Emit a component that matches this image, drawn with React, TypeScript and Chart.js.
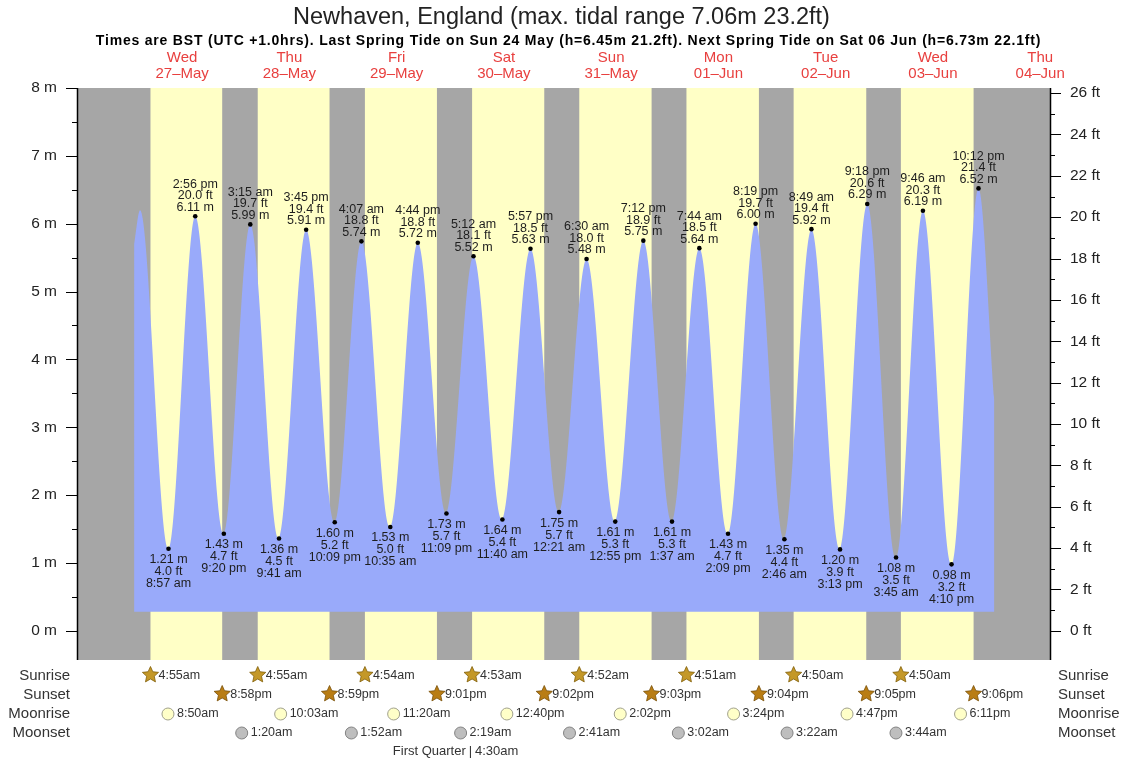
import React, { useEffect, useRef } from 'react';
import { Chart, registerables } from 'chart.js';

Chart.register(...registerables);

const FONT = '"Liberation Sans", Arial, Helvetica, sans-serif';
const GRAY = 'rgb(166,166,166)';
const YELLOW = 'rgb(255,255,198)';
const BLUE = 'rgb(153,170,250)';
const RED = '#e8403f';
const FT_PER_M = 3.28084;

// x values are hours after 00:00 BST on Wed 27 May
const X_MIN = -11.3;
const X_MAX = 206.2;
const Y_MIN = -0.43;
const Y_MAX = 8;
const FILL_BASE = 0.28;

const titleText = 'Newhaven, England (max. tidal range 7.06m 23.2ft)';
const subtitleText =
  'Times are BST (UTC +1.0hrs). Last Spring Tide on Sun 24 May (h=6.45m 21.2ft). Next Spring Tide on Sat 06 Jun (h=6.73m 22.1ft)';

const dayNames = ['Wed', 'Thu', 'Fri', 'Sat', 'Sun', 'Mon', 'Tue', 'Wed', 'Thu'];
const dayDates = ['27–May', '28–May', '29–May', '30–May', '31–May', '01–Jun', '02–Jun', '03–Jun', '04–Jun'];

// labelled high / low tides
const tideDay = [0, 0, 0, 1, 1, 1, 1, 2, 2, 2, 2, 3, 3, 3, 4, 4, 4, 4, 5, 5, 5, 5, 6, 6, 6, 6, 7, 7, 7, 7];
const tideTime = [
  '8:57 am', '2:56 pm', '9:20 pm',
  '3:15 am', '9:41 am', '3:45 pm', '10:09 pm',
  '4:07 am', '10:35 am', '4:44 pm', '11:09 pm',
  '5:12 am', '11:40 am', '5:57 pm',
  '12:21 am', '6:30 am', '12:55 pm', '7:12 pm',
  '1:37 am', '7:44 am', '2:09 pm', '8:19 pm',
  '2:46 am', '8:49 am', '3:13 pm', '9:18 pm',
  '3:45 am', '9:46 am', '4:10 pm', '10:12 pm',
];
const tideType = [
  'L', 'H', 'L',
  'H', 'L', 'H', 'L',
  'H', 'L', 'H', 'L',
  'H', 'L', 'H',
  'L', 'H', 'L', 'H',
  'L', 'H', 'L', 'H',
  'L', 'H', 'L', 'H',
  'L', 'H', 'L', 'H',
];
const tideM = [
  1.21, 6.11, 1.43,
  5.99, 1.36, 5.91, 1.6,
  5.74, 1.53, 5.72, 1.73,
  5.52, 1.64, 5.63,
  1.75, 5.48, 1.61, 5.75,
  1.61, 5.64, 1.43, 6.0,
  1.35, 5.92, 1.2, 6.29,
  1.08, 6.19, 0.98, 6.52,
];
const tideFt = [
  4.0, 20.0, 4.7,
  19.7, 4.5, 19.4, 5.2,
  18.8, 5.0, 18.8, 5.7,
  18.1, 5.4, 18.5,
  5.7, 18.0, 5.3, 18.9,
  5.3, 18.5, 4.7, 19.7,
  4.4, 19.4, 3.9, 20.6,
  3.5, 20.3, 3.2, 21.4,
];

// unlabelled points of the curve: start, first high, end
const edgeDay = [0, 0, 8];
const edgeTime = ['1:15 am', '2:35 am', '1:45 am'];
const edgeM = [5.7, 6.2, 3.4];

const sunriseTimes = ['4:55am', '4:55am', '4:54am', '4:53am', '4:52am', '4:51am', '4:50am', '4:50am'];
const sunsetTimes = ['8:58pm', '8:59pm', '9:01pm', '9:02pm', '9:03pm', '9:04pm', '9:05pm', '9:06pm'];
const moonriseTimes = ['8:50am', '10:03am', '11:20am', '12:40pm', '2:02pm', '3:24pm', '4:47pm', '6:11pm'];
const moonsetDay = [1, 2, 3, 4, 5, 6, 7];
const moonsetTimes = ['1:20am', '1:52am', '2:19am', '2:41am', '3:02am', '3:22am', '3:44am'];
const phaseDay = 3;
const phaseTime = '4:30am';
const phaseName = 'First Quarter';

const mTicks = [0, 0.5, 1, 1.5, 2, 2.5, 3, 3.5, 4, 4.5, 5, 5.5, 6, 6.5, 7, 7.5, 8];
const ftTicks = [0, 1, 2, 3, 4, 5, 6, 7, 8, 9, 10, 11, 12, 13, 14, 15, 16, 17, 18, 19, 20, 21, 22, 23, 24, 25, 26];

function parseTime(s: string): number {
  const m = s.trim().match(/^(\d+):(\d+)\s*(am|pm)$/i);
  if (!m) return 0;
  let h = parseInt(m[1], 10) % 12;
  const min = parseInt(m[2], 10);
  if (m[3].toLowerCase() === 'pm') h += 12;
  return h + min / 60;
}
const hoursOf = (day: number, t: string) => day * 24 + parseTime(t);

type P = { x: number; y: number; idx: number };
const curvePoints: P[] = [
  ...tideM.map((m, i) => ({ x: hoursOf(tideDay[i], tideTime[i]), y: m, idx: i })),
  ...edgeM.map((m, i) => ({ x: hoursOf(edgeDay[i], edgeTime[i]), y: m, idx: -1 })),
].sort((a, b) => a.x - b.x);

function drawStar(ctx: CanvasRenderingContext2D, cx: number, cy: number, R: number, r: number, fill: string, stroke: string) {
  ctx.beginPath();
  for (let i = 0; i < 10; i++) {
    const ang = -Math.PI / 2 + (i * Math.PI) / 5;
    const rad = i % 2 === 0 ? R : r;
    const px = cx + rad * Math.cos(ang);
    const py = cy + rad * Math.sin(ang);
    if (i === 0) ctx.moveTo(px, py);
    else ctx.lineTo(px, py);
  }
  ctx.closePath();
  ctx.fillStyle = fill;
  ctx.fill();
  ctx.lineWidth = 0.8;
  ctx.strokeStyle = stroke;
  ctx.stroke();
}

function drawMoon(ctx: CanvasRenderingContext2D, cx: number, cy: number, fill: string, stroke: string) {
  ctx.beginPath();
  ctx.arc(cx, cy, 6, 0, Math.PI * 2);
  ctx.fillStyle = fill;
  ctx.fill();
  ctx.lineWidth = 1;
  ctx.strokeStyle = stroke;
  ctx.stroke();
}

const decorPlugin = {
  id: 'tideDecor',
  beforeDatasetsDraw(chart: any) {
    const { ctx, chartArea: a, scales } = chart;
    const xs = scales.x;
    ctx.save();
    ctx.fillStyle = GRAY;
    ctx.fillRect(a.left, a.top, a.right - a.left, a.bottom - a.top);
    ctx.fillStyle = YELLOW;
    for (let i = 0; i < sunriseTimes.length; i++) {
      const x0 = xs.getPixelForValue(hoursOf(i, sunriseTimes[i]));
      const x1 = xs.getPixelForValue(hoursOf(i, sunsetTimes[i]));
      ctx.fillRect(x0, a.top, x1 - x0, a.bottom - a.top);
    }
    ctx.restore();
  },
  afterDatasetsDraw(chart: any) {
    const { ctx, scales } = chart;
    const xs = scales.x;
    const ys = scales.y;
    ctx.save();
    ctx.font = `12.5px ${FONT}`;
    ctx.textAlign = 'center';
    ctx.textBaseline = 'middle';
    ctx.fillStyle = '#1e1e1e';
    for (let i = 0; i < tideM.length; i++) {
      const px = xs.getPixelForValue(hoursOf(tideDay[i], tideTime[i]));
      const py = ys.getPixelForValue(tideM[i]);
      const mStr = `${tideM[i].toFixed(2)} m`;
      const ftStr = `${tideFt[i].toFixed(1)} ft`;
      if (tideType[i] === 'H') {
        ctx.fillText(tideTime[i], px, py - 32);
        ctx.fillText(ftStr, px, py - 20.5);
        ctx.fillText(mStr, px, py - 9);
      } else {
        ctx.fillText(mStr, px, py + 11);
        ctx.fillText(ftStr, px, py + 23);
        ctx.fillText(tideTime[i], px, py + 35);
      }
    }
    ctx.restore();
  },
  afterDraw(chart: any) {
    const { ctx, chartArea: a, scales, width } = chart;
    const xs = scales.x;
    const ys = scales.y;
    const y2 = scales.y2;
    ctx.save();

    // axis lines and ticks
    ctx.strokeStyle = '#000';
    ctx.lineWidth = 1.5;
    ctx.beginPath();
    ctx.moveTo(a.left - 0.5, a.top);
    ctx.lineTo(a.left - 0.5, a.bottom);
    ctx.moveTo(a.right + 0.5, a.top);
    ctx.lineTo(a.right + 0.5, a.bottom);
    ctx.stroke();
    ctx.lineWidth = 1;
    ctx.beginPath();
    mTicks.forEach((v) => {
      const y = Math.round(ys.getPixelForValue(v)) + 0.5;
      const len = Number.isInteger(v) ? 12 : 6;
      ctx.moveTo(a.left - len, y);
      ctx.lineTo(a.left, y);
    });
    ftTicks.forEach((v) => {
      const y = Math.round(y2.getPixelForValue(v)) + 0.5;
      const len = v % 2 === 0 ? 11 : 5;
      ctx.moveTo(a.right, y);
      ctx.lineTo(a.right + len, y);
    });
    ctx.stroke();

    // titles
    ctx.textAlign = 'center';
    ctx.textBaseline = 'middle';
    ctx.fillStyle = '#222';
    ctx.font = `23.5px ${FONT}`;
    ctx.fillText(titleText, width / 2, 18);
    ctx.fillStyle = '#000';
    ctx.font = `bold 14px ${FONT}`;
    (ctx as any).letterSpacing = '0.8px';
    ctx.fillText(subtitleText, width / 2 + 7, 41);
    (ctx as any).letterSpacing = '0px';

    // day labels
    ctx.fillStyle = RED;
    ctx.font = `15px ${FONT}`;
    for (let d = 0; d < dayNames.length; d++) {
      const px = xs.getPixelForValue(d * 24 + 12);
      ctx.fillText(dayNames[d], px, 58);
      ctx.fillText(dayDates[d], px, 74);
    }

    // bottom rows
    const rowY = [676, 695, 714, 733, 751];
    const rowNames = ['Sunrise', 'Sunset', 'Moonrise', 'Moonset'];
    ctx.font = `15px ${FONT}`;
    ctx.fillStyle = '#333';
    rowNames.forEach((n, i) => {
      ctx.textAlign = 'right';
      ctx.fillText(n, 70, rowY[i]);
      ctx.textAlign = 'left';
      ctx.fillText(n, a.right + 8, rowY[i]);
    });

    ctx.font = `12.5px ${FONT}`;
    ctx.textAlign = 'left';
    const label = (px: number, y: number, s: string) => {
      ctx.fillStyle = '#333';
      ctx.fillText(s, px + 8, y);
    };
    sunriseTimes.forEach((t, i) => {
      const px = xs.getPixelForValue(hoursOf(i, t));
      drawStar(ctx, px, rowY[0] - 1, 8.5, 4, 'rgb(196,152,40)', 'rgb(130,95,10)');
      label(px, rowY[0], t);
    });
    sunsetTimes.forEach((t, i) => {
      const px = xs.getPixelForValue(hoursOf(i, t));
      drawStar(ctx, px, rowY[1] - 1, 8.5, 4, 'rgb(185,125,20)', 'rgb(120,80,10)');
      label(px, rowY[1], t);
    });
    moonriseTimes.forEach((t, i) => {
      const px = xs.getPixelForValue(hoursOf(i, t));
      drawMoon(ctx, px, rowY[2], 'rgb(255,255,200)', 'rgb(160,160,140)');
      label(px + 1, rowY[2], t);
    });
    moonsetTimes.forEach((t, i) => {
      const px = xs.getPixelForValue(hoursOf(moonsetDay[i], t));
      drawMoon(ctx, px, rowY[3], 'rgb(190,190,190)', 'rgb(130,130,130)');
      label(px + 1, rowY[3], t);
    });

    // moon phase
    const ppx = xs.getPixelForValue(hoursOf(phaseDay, phaseTime));
    ctx.font = `13px ${FONT}`;
    ctx.fillStyle = '#333';
    ctx.textAlign = 'right';
    ctx.fillText(`${phaseName} `, ppx - 1, rowY[4]);
    ctx.textAlign = 'center';
    ctx.fillText('|', ppx, rowY[4]);
    ctx.textAlign = 'left';
    ctx.fillText(` ${phaseTime}`, ppx + 1, rowY[4]);

    ctx.restore();
  },
};

export default function App() {
  const ref = useRef<HTMLCanvasElement>(null);
  useEffect(() => {
    document.body.style.margin = '0';
    const chart = new Chart(ref.current as HTMLCanvasElement, {
      type: 'line',
      data: {
        datasets: [
          {
            data: curvePoints as any,
            parsing: false as any,
            borderWidth: 0,
            borderColor: BLUE,
            backgroundColor: BLUE,
            fill: { value: FILL_BASE } as any,
            cubicInterpolationMode: 'monotone',
            pointRadius: (c: any) => (c.raw && c.raw.idx >= 0 ? 2.3 : 0),
            pointBackgroundColor: '#000',
            pointBorderColor: '#000',
            pointBorderWidth: 0,
            pointHoverRadius: 0,
          },
        ],
      },
      options: {
        animation: false,
        responsive: true,
        maintainAspectRatio: false,
        devicePixelRatio: 1,
        events: [],
        layout: { padding: { top: 88, bottom: 100, left: 0, right: 0 } },
        plugins: {
          legend: { display: false },
          title: { display: false },
          tooltip: { enabled: false },
        },
        scales: {
          x: { type: 'linear', min: X_MIN, max: X_MAX, display: false },
          y: {
            type: 'linear',
            position: 'left',
            min: Y_MIN,
            max: Y_MAX,
            afterBuildTicks: (s: any) => {
              s.ticks = mTicks.map((v) => ({ value: v }));
            },
            afterFit: (s: any) => {
              s.width = 78;
            },
            grid: { display: false, drawTicks: false },
            border: { display: false },
            ticks: {
              autoSkip: false,
              padding: 21,
              color: '#222',
              font: { family: FONT, size: 15.5 },
              callback: (v: any) => (Number.isInteger(v) ? `${v} m` : ''),
            },
          },
          y2: {
            type: 'linear',
            position: 'right',
            min: Y_MIN * FT_PER_M,
            max: Y_MAX * FT_PER_M,
            afterBuildTicks: (s: any) => {
              s.ticks = ftTicks.map((v) => ({ value: v }));
            },
            afterFit: (s: any) => {
              s.width = 73;
            },
            grid: { display: false, drawTicks: false },
            border: { display: false },
            ticks: {
              autoSkip: false,
              padding: 20,
              color: '#222',
              font: { family: FONT, size: 15.5 },
              callback: (v: any) => (v % 2 === 0 ? `${v} ft` : ''),
            },
          },
        },
      },
      plugins: [decorPlugin],
    } as any);
    return () => chart.destroy();
  }, []);
  return (
    <div style={{ position: 'fixed', left: 0, top: 0, width: 1123, height: 760, background: '#fff' }}>
      <canvas ref={ref} />
    </div>
  );
}
